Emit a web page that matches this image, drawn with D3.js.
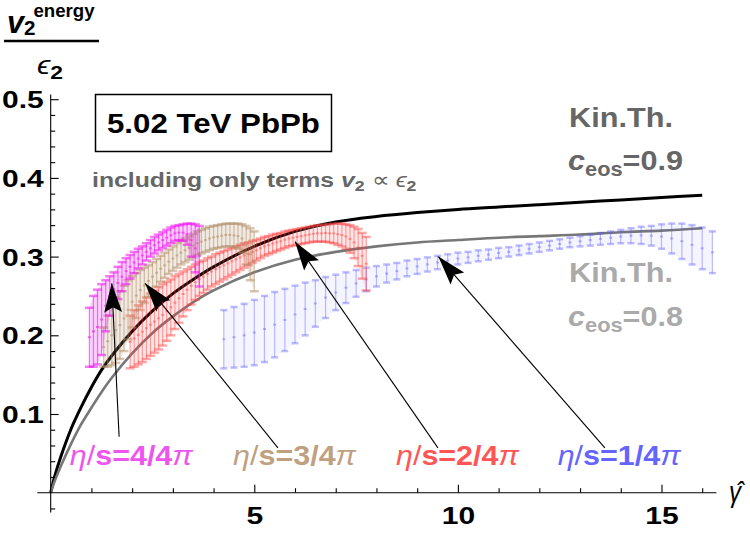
<!DOCTYPE html>
<html>
<head>
<meta charset="utf-8">
<script src="https://cdn.jsdelivr.net/npm/d3@7"></script>
<style>
  body { margin: 0; background: #fff; }
  svg { display: block; font-family: "Liberation Sans", Arial, sans-serif; }
</style>
</head>
<body>
<div id="app"></div>
<script>
// kinetic theory curves
const kinX = [0, 0.1, 0.25, 0.5, 0.75, 1, 1.25, 1.5, 2, 2.5, 3, 3.5, 4, 5, 6, 7, 8, 9, 10, 11, 12, 13, 14, 15, 16];
const kin09 = [0, 0.021, 0.046, 0.081, 0.109, 0.134, 0.156, 0.174, 0.205, 0.231, 0.253, 0.271, 0.287, 0.313, 0.332, 0.344, 0.351, 0.356, 0.36, 0.363, 0.366, 0.369, 0.372, 0.375, 0.378];
const kin08 = [0, 0.015, 0.034, 0.062, 0.087, 0.108, 0.128, 0.146, 0.177, 0.203, 0.224, 0.242, 0.257, 0.28, 0.296, 0.306, 0.313, 0.318, 0.321, 0.324, 0.326, 0.328, 0.331, 0.333, 0.336];

// hydro bands: error bar bottoms / tops
const magX = [0.95, 1.05, 1.15, 1.25, 1.35, 1.45, 1.55, 1.65, 1.75, 1.85, 1.95, 2.05, 2.15, 2.25, 2.35, 2.45, 2.55, 2.65, 2.75, 2.85, 2.95, 3.05, 3.15, 3.25, 3.35, 3.45, 3.55, 3.65];
const magHi = [0.235, 0.25, 0.258, 0.265, 0.27, 0.275, 0.28, 0.287, 0.293, 0.298, 0.302, 0.306, 0.31, 0.313, 0.317, 0.321, 0.325, 0.328, 0.331, 0.334, 0.337, 0.339, 0.34, 0.341, 0.342, 0.342, 0.341, 0.339];
const magLo = [0.16, 0.16, 0.163, 0.175, 0.205, 0.225, 0.237, 0.246, 0.256, 0.265, 0.272, 0.279, 0.285, 0.29, 0.295, 0.3, 0.304, 0.308, 0.311, 0.314, 0.317, 0.32, 0.321, 0.32, 0.315, 0.3, 0.28, 0.262];

const brnX = [1.3, 1.4, 1.5, 1.6, 1.7, 1.8, 1.9, 2.0, 2.1, 2.2, 2.3, 2.4, 2.5, 2.6, 2.7, 2.8, 2.9, 3.0, 3.1, 3.2, 3.3, 3.4, 3.5, 3.6, 3.7, 3.8, 3.9, 4.0, 4.1, 4.2, 4.3, 4.4, 4.5, 4.6, 4.7, 4.8, 4.9, 5.0];
const brnHi = [0.21, 0.225, 0.238, 0.248, 0.256, 0.263, 0.27, 0.275, 0.279, 0.283, 0.286, 0.289, 0.293, 0.297, 0.301, 0.305, 0.309, 0.313, 0.317, 0.32, 0.323, 0.326, 0.329, 0.332, 0.334, 0.336, 0.338, 0.339, 0.34, 0.341, 0.342, 0.342, 0.342, 0.342, 0.341, 0.339, 0.336, 0.332];
const brnLo = [0.16, 0.16, 0.162, 0.165, 0.17, 0.18, 0.195, 0.21, 0.222, 0.232, 0.241, 0.249, 0.256, 0.262, 0.268, 0.273, 0.278, 0.282, 0.286, 0.29, 0.293, 0.296, 0.299, 0.302, 0.304, 0.306, 0.308, 0.31, 0.311, 0.312, 0.313, 0.313, 0.312, 0.31, 0.305, 0.29, 0.27, 0.256];

const redX = [1.95, 2.05, 2.15, 2.25, 2.35, 2.45, 2.55, 2.65, 2.75, 2.85, 2.95, 3.05, 3.15, 3.25, 3.35, 3.45, 3.55, 3.65, 3.75, 3.85, 3.95, 4.05, 4.15, 4.25, 4.35, 4.45, 4.55, 4.65, 4.75, 4.85, 4.95, 5.05, 5.15, 5.25, 5.35, 5.45, 5.55, 5.65, 5.75, 5.85, 5.95, 6.05, 6.15, 6.25, 6.35, 6.45, 6.55, 6.65, 6.75, 6.85, 6.95, 7.05, 7.15, 7.25, 7.35, 7.45, 7.55, 7.65, 7.75];
const redHi = [0.225, 0.232, 0.238, 0.243, 0.248, 0.253, 0.257, 0.261, 0.265, 0.268, 0.271, 0.275, 0.278, 0.281, 0.284, 0.287, 0.29, 0.293, 0.295, 0.298, 0.3, 0.303, 0.305, 0.307, 0.309, 0.311, 0.313, 0.315, 0.317, 0.318, 0.32, 0.321, 0.323, 0.325, 0.326, 0.328, 0.329, 0.33, 0.332, 0.333, 0.334, 0.335, 0.336, 0.337, 0.338, 0.339, 0.34, 0.34, 0.341, 0.341, 0.342, 0.342, 0.342, 0.341, 0.34, 0.338, 0.335, 0.33, 0.325];
const redLo = [0.158, 0.16, 0.163, 0.166, 0.17, 0.174, 0.178, 0.182, 0.187, 0.193, 0.2, 0.208, 0.216, 0.224, 0.232, 0.239, 0.245, 0.25, 0.254, 0.258, 0.262, 0.265, 0.268, 0.271, 0.274, 0.277, 0.28, 0.283, 0.286, 0.289, 0.292, 0.295, 0.298, 0.301, 0.303, 0.305, 0.307, 0.309, 0.311, 0.313, 0.314, 0.315, 0.316, 0.317, 0.318, 0.319, 0.319, 0.319, 0.319, 0.318, 0.317, 0.315, 0.313, 0.31, 0.305, 0.298, 0.288, 0.272, 0.257];

const bluX = [4.25, 4.5, 4.75, 5.0, 5.25, 5.5, 5.75, 6.0, 6.25, 6.5, 6.75, 7.0, 7.25, 7.5, 7.75, 8.0, 8.25, 8.5, 8.75, 9.0, 9.25, 9.5, 9.75, 10.0, 10.25, 10.5, 10.75, 11.0, 11.25, 11.5, 11.75, 12.0, 12.25, 12.5, 12.75, 13.0, 13.25, 13.5, 13.75, 14.0, 14.25, 14.5, 14.75, 15.0, 15.25, 15.5, 15.75, 16.0, 16.25];
const bluHi = [0.232, 0.236, 0.24, 0.245, 0.25, 0.255, 0.259, 0.263, 0.267, 0.27, 0.274, 0.277, 0.28, 0.283, 0.286, 0.288, 0.29, 0.292, 0.295, 0.297, 0.299, 0.301, 0.303, 0.305, 0.306, 0.308, 0.309, 0.311, 0.312, 0.314, 0.316, 0.318, 0.32, 0.322, 0.324, 0.326, 0.328, 0.33, 0.332, 0.334, 0.336, 0.338, 0.339, 0.341, 0.342, 0.342, 0.34, 0.337, 0.332];
const bluLo = [0.158, 0.159, 0.16, 0.162, 0.166, 0.172, 0.18, 0.19, 0.2, 0.211, 0.222, 0.232, 0.241, 0.249, 0.256, 0.262, 0.267, 0.271, 0.275, 0.278, 0.281, 0.284, 0.287, 0.29, 0.292, 0.294, 0.296, 0.298, 0.3, 0.302, 0.304, 0.306, 0.308, 0.31, 0.312, 0.313, 0.314, 0.315, 0.316, 0.317, 0.317, 0.316, 0.314, 0.31, 0.304, 0.297, 0.29, 0.284, 0.279];

// labels + arrows
const bandNames = ["4/4", "3/4", "2/4", "1/4"];
const bandColors = ["#ee55ee", "#bfa07f", "#ff5555", "#6464ff"];
const arrowFrom = [[1.68, 0.071], [5.58, 0.057], [9.51, 0.057], [13.61, 0.057]];
const arrowTo = [[1.5, 0.266], [2.32, 0.266], [6.0, 0.319], [9.52, 0.3]];
const labelX = [0.47, 4.48, 8.48, 12.45];

const width = 750, height = 536;

const svg = d3.select('#app').append('svg')
    .attr('width', width)
    .attr('height', height);

const x = d3.scaleLinear().domain([0, 16]).range([50.7, 702.2]);
const y = d3.scaleLinear().domain([0, 0.5]).range([492.7, 99.2]);

// stretch text to a target ink width (picture is wider than normal fonts)
const fit = (g, px, py, w) => {
    const bb = g.node().getBBox();
    const s = w / bb.width;
    g.attr('transform', 'translate(' + (px - bb.x * s) + ',' + py + ') scale(' + s + ',1)');
};

// curves
const line = d3.line()
    .x(d => x(d[0]))
    .y(d => y(d[1]))
    .curve(d3.curveCatmullRom.alpha(0.5));

svg.append('path')
    .attr('d', line(kinX.map((v, i) => [v, kin09[i]])))
    .attr('fill', 'none')
    .attr('stroke', '#000')
    .attr('stroke-width', 3);

svg.append('path')
    .attr('d', line(kinX.map((v, i) => [v, kin08[i]])))
    .attr('fill', 'none')
    .attr('stroke', '#777')
    .attr('stroke-width', 2.6);

// error bar bands
const drawBand = (xs, lo, hi, color, op, cap, fillOp) => {
    const data = xs.map((v, i) => ({ x: v, lo: lo[i], hi: hi[i] }));
    svg.append('path')
        .attr('d', d3.area().x(d => x(d.x)).y0(d => y(d.lo)).y1(d => y(d.hi))(data))
        .attr('fill', color)
        .attr('fill-opacity', fillOp);
    const g = svg.append('g')
        .attr('stroke', color)
        .attr('stroke-opacity', op)
        .attr('stroke-width', 1.2);
    g.selectAll('line.v')
        .data(data)
        .enter()
        .append('line')
        .attr('x1', d => x(d.x)).attr('x2', d => x(d.x))
        .attr('y1', d => y(d.lo)).attr('y2', d => y(d.hi));
    g.selectAll('line.t')
        .data(data)
        .enter()
        .append('line')
        .attr('x1', d => x(d.x) - cap).attr('x2', d => x(d.x) + cap)
        .attr('y1', d => y(d.hi)).attr('y2', d => y(d.hi))
        .attr('stroke-width', 2.5);
    g.selectAll('line.b')
        .data(data)
        .enter()
        .append('line')
        .attr('x1', d => x(d.x) - cap).attr('x2', d => x(d.x) + cap)
        .attr('y1', d => y(d.lo)).attr('y2', d => y(d.lo))
        .attr('stroke-width', 2.5);
    g.selectAll('rect')
        .data(data)
        .enter()
        .append('rect')
        .attr('x', d => x(d.x) - 1.5)
        .attr('y', d => (y(d.lo) + y(d.hi)) / 2 - 1)
        .attr('width', 3).attr('height', 2)
        .attr('fill', color).attr('fill-opacity', op)
        .attr('stroke', 'none');
};

drawBand(bluX, bluLo, bluHi, '#5a5aff', 0.4, 3.5, 0.06);
drawBand(redX, redLo, redHi, '#ff3c3c', 0.45, 4.5, 0.12);
drawBand(brnX, brnLo, brnHi, '#b08c64', 0.5, 4.5, 0.18);
drawBand(magX, magLo, magHi, '#ee11ee', 0.55, 4.5, 0.2);

// axes
const axes = svg.append('g').attr('stroke', '#000').attr('stroke-width', 1.1);
axes.append('line')
    .attr('x1', x(-0.33)).attr('x2', x(16.35))
    .attr('y1', y(0)).attr('y2', y(0));
axes.append('line')
    .attr('x1', x(0)).attr('x2', x(0))
    .attr('y1', y(-0.025)).attr('y2', y(0.506));

const yMinor = [-0.02, 0.02, 0.04, 0.06, 0.08, 0.12, 0.14, 0.16, 0.18, 0.22, 0.24, 0.26, 0.28, 0.32, 0.34, 0.36, 0.38, 0.42, 0.44, 0.46, 0.48];
const yMajor = [0.1, 0.2, 0.3, 0.4, 0.5];
const xMinor = [1, 2, 3, 4, 6, 7, 8, 9, 11, 12, 13, 14, 16];
const xMajor = [5, 10, 15];

const yAx = svg.append('g').attr('transform', 'translate(' + x(0) + ',0)');
yAx.call(d3.axisLeft(y).tickValues(yMinor).tickSize(-4.5).tickFormat(''));
yAx.call(g => g.select('.domain').remove());
const yAx2 = svg.append('g').attr('transform', 'translate(' + x(0) + ',0)');
yAx2.call(d3.axisLeft(y).tickValues(yMajor).tickSize(-8).tickPadding(7).tickFormat(d3.format('.1f')));
yAx2.call(g => g.select('.domain').remove());

const xAx = svg.append('g').attr('transform', 'translate(0,' + y(0) + ')');
xAx.call(d3.axisBottom(x).tickValues(xMinor).tickSize(-4.5).tickFormat(''));
xAx.call(g => g.select('.domain').remove());
const xAx2 = svg.append('g').attr('transform', 'translate(0,' + y(0) + ')');
xAx2.call(d3.axisBottom(x).tickValues(xMajor).tickSize(-8).tickPadding(14).tickFormat(d3.format('d')));
xAx2.call(g => g.select('.domain').remove());

svg.selectAll('.tick line').attr('stroke', '#000').attr('stroke-width', 1.1);
svg.selectAll('.tick text')
    .attr('font-family', '"Liberation Sans", Arial, sans-serif')
    .attr('font-size', 24)
    .attr('font-weight', 'bold')
    .attr('fill', '#000')
    .each(function () {
        const w = this.getComputedTextLength();
        d3.select(this).attr('textLength', w * 1.25).attr('lengthAdjust', 'spacingAndGlyphs');
    });
yAx2.selectAll('.tick text').attr('dy', '0.36em');
xAx2.selectAll('.tick text').attr('dy', '0.71em');

// axis labels
const yl = svg.append('g').attr('font-weight', 'bold');
const t1 = yl.append('text').attr('x', 0).attr('y', 0);
t1.append('tspan').attr('font-size', 31).attr('font-style', 'italic').text('v');
t1.append('tspan').attr('font-size', 21).attr('dy', 2).text('2');
t1.append('tspan').attr('font-size', 19).attr('dy', -18).attr('dx', -2).text('energy');
fit(yl, 7, 33, 88);
svg.append('line')
    .attr('x1', 4).attr('x2', 99).attr('y1', 41).attr('y2', 41)
    .attr('stroke', '#000').attr('stroke-width', 2.4);
const el = svg.append('g');
const t2 = el.append('text');
t2.append('tspan').attr('font-size', 25).attr('font-style', 'italic').text('ϵ');
t2.append('tspan').attr('font-size', 19).attr('dy', 5).attr('font-weight', 'bold').text('2');
fit(el, 37, 74, 26);

const gl = svg.append('g');
gl.append('text')
    .attr('font-size', 30).attr('font-style', 'italic')
    .text('γ̂');
fit(gl, 729, 502, 16);

// box
svg.append('rect')
    .attr('x', 95.5).attr('y', 94.5).attr('width', 236).attr('height', 57)
    .attr('fill', 'none').attr('stroke', '#000').attr('stroke-width', 1.5);
const bt = svg.append('g');
bt.append('text').attr('font-size', 28).attr('font-weight', 'bold').text('5.02 TeV PbPb');
fit(bt, 107, 133, 213);

// subtitle
const sub = svg.append('g').attr('fill', '#666').attr('font-weight', 'bold');
const st = sub.append('text').attr('font-size', 21);
st.append('tspan').text('including only terms ');
st.append('tspan').attr('font-style', 'italic').text('v');
st.append('tspan').attr('font-size', 15).attr('dy', 4).text('2');
st.append('tspan').attr('dy', -4).attr('font-weight', 'normal').text(' ∝ ');
st.append('tspan').attr('font-style', 'italic').attr('font-weight', 'normal').text('ϵ');
st.append('tspan').attr('font-size', 15).attr('dy', 4).text('2');
fit(sub, 92, 187, 325);

// kinetic theory labels
const kinLabel = (color, val, y1, y2) => {
    const a = svg.append('g').attr('fill', color).attr('font-weight', 'bold');
    a.append('text').attr('font-size', 28).text('Kin.Th.');
    fit(a, 569, y1, 104);
    const b = svg.append('g').attr('fill', color).attr('font-weight', 'bold');
    const t = b.append('text').attr('font-size', 28);
    t.append('tspan').attr('font-style', 'italic').text('c');
    t.append('tspan').attr('font-size', 20).attr('dy', 6).text('eos');
    t.append('tspan').attr('dy', -6).text('=' + val);
    fit(b, 568, y2, 115);
};
kinLabel('#666', '0.9', 127, 170);
kinLabel('#aaa', '0.8', 282, 326);

// arrows
const arrows = svg.append('g');
arrowFrom.forEach((f, i) => {
    const x0 = x(f[0]), y0 = y(f[1]);
    const x1 = x(arrowTo[i][0]), y1 = y(arrowTo[i][1]);
    const ang = Math.atan2(y1 - y0, x1 - x0) * 180 / Math.PI;
    arrows.append('line')
        .attr('x1', x0).attr('y1', y0).attr('x2', x1).attr('y2', y1)
        .attr('stroke', '#000').attr('stroke-width', 1.1);
    arrows.append('path')
        .attr('d', 'M0,0 L-29,-9 L-24,0 L-29,9 Z')
        .attr('fill', '#000')
        .attr('transform', 'translate(' + x1 + ',' + y1 + ') rotate(' + ang + ')');
});

// band labels
bandNames.forEach((n, i) => {
    const g = svg.append('g').attr('fill', bandColors[i]);
    const t = g.append('text').attr('font-size', 27);
    t.append('tspan').attr('font-style', 'italic').text('η');
    t.append('tspan').text('/');
    t.append('tspan').attr('font-weight', 'bold').text('s=' + n);
    t.append('tspan').attr('font-style', 'italic').text('π');
    fit(g, x(labelX[i]), 465, 124);
});
</script>
</body>
</html>
